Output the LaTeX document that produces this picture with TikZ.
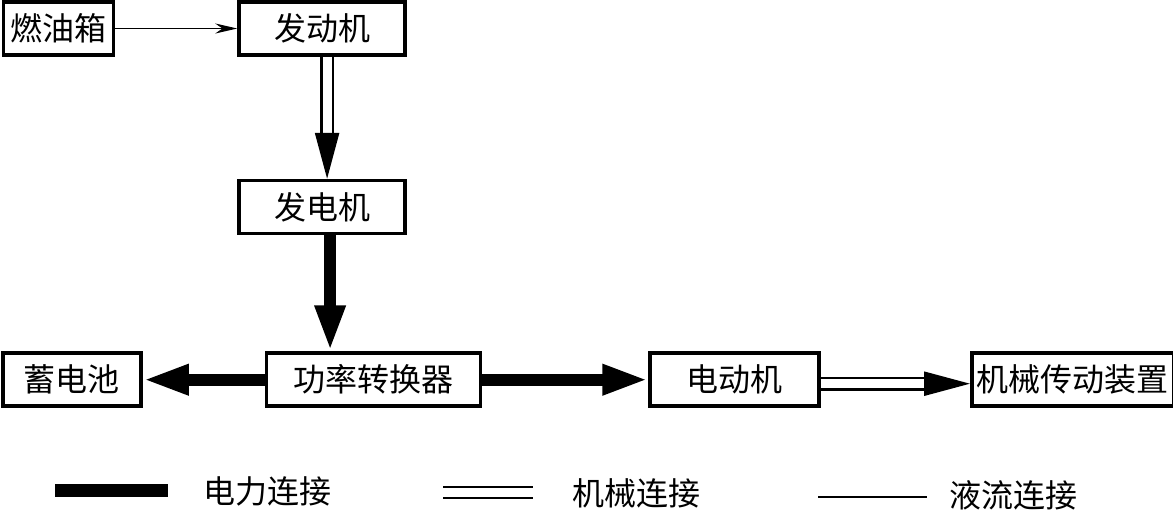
\documentclass[tikz,border=0pt]{standalone}
\usepackage{fontspec}
\setmainfont{Noto Sans CJK SC}
\usetikzlibrary{arrows.meta,positioning}

\begin{document}
\begin{tikzpicture}[x=1pt,y=1pt,
    block/.style={draw,line width=1.8pt,inner sep=0pt,minimum height=26.5pt,
                  font=\fontsize{16}{17}\selectfont},
    elec/.style={line width=6pt,-{Triangle[length=23pt,width=14pt]}},
    mech/.style={double,double distance=4.5pt,line width=1.2pt,
                 -{Triangle[length=23pt,width=12pt]}},
    fuel/.style={line width=0.9pt,-{Stealth[length=11pt,width=5pt]}},
    legtext/.style={font=\fontsize{16}{17}\selectfont}]

            \useasboundingbox (0,0) rectangle (586.5,-254.5);

            \node[block,minimum width=55pt] (tank) at (29.25,-14.25) {燃油箱};

            \node[block,minimum width=83pt] (engine) [right=61pt of tank] {发动机};

            \node[block,minimum width=83pt] (gen) [below=61pt of engine] {发电机};

            \node[block,minimum width=107pt] (conv) [below=58pt of gen,xshift=25.75pt] {功率转换器};

            \node[block,minimum width=69pt] (batt) [left=61pt of conv] {蓄电池};

            \node[block,minimum width=84.5pt] (motor) [right=83pt of conv] {电动机};

            \node[block,minimum width=101pt] (trans) [right=74.5pt of motor] {机械传动装置};

            

            \draw[fuel] (tank) -- (engine);

            \draw[mech] ([xshift=2.5pt]engine.south) -- ([xshift=2.5pt]gen.north);

            \draw[elec] ([xshift=4pt]gen.south) -- ([xshift=4pt]gen.south |- conv.north);

            \draw[elec] (conv) -- (batt);

            \draw[elec] (conv) -- (motor);

            \draw[mech] ([yshift=-2pt]motor.east) -- ([yshift=-2pt]trans.west);

            

            % legend

            \coordinate (e1) at (27.5,-245);
            \coordinate (e2) at (84,-245);
            \coordinate (m1) at (221.5,-246.25);
            \coordinate (m2) at (266.5,-246.25);
            \coordinate (f1) at (409,-248.5);
            \coordinate (f2) at (463.5,-248.5);

            \draw[line width=6.5pt] (e1) -- (e2);

            \draw[double,double distance=4.5pt,line width=1.2pt] (m1) -- (m2);

            \draw[line width=0.9pt] (f1) -- (f2);

            \node[legtext] (eleg) at (133.5,-245.5) {电力连接};

            \node[legtext] (mleg) at (318,-246.5) {机械连接};

            \node[legtext] (fleg) at (506.5,-247.5) {液流连接};

        \end{tikzpicture}
\end{document}
